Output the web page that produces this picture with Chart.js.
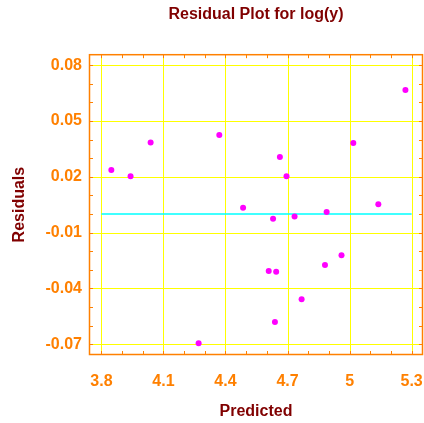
<!DOCTYPE html>
<html><head><meta charset="utf-8">
<style>html,body{margin:0;padding:0;background:#fff;}</style>
<script src="https://cdn.jsdelivr.net/npm/chart.js@4.4.0/dist/chart.umd.min.js"></script>
</head><body>
<canvas id="c" width="424" height="423"></canvas>
<script>
const predicted = [3.848, 3.941, 4.038, 4.270, 4.370, 4.485, 4.609, 4.630, 4.639, 4.645,
                   4.663, 4.695, 4.734, 4.768, 4.881, 4.889, 4.961, 5.018, 5.139, 5.270];
const residuals = [0.0237, 0.0203, 0.0384, -0.0695, 0.0425, 0.0033, -0.0306, -0.0025, -0.0580, -0.0310,
                   0.0307, 0.0203, -0.0014, -0.0458, -0.0274, 0.0011, -0.0222, 0.0382, 0.0053, 0.0666];
const zeroLineX = [3.8, 5.3];
const zeroLineY = [0, 0];
const xTicks = [3.8, 4.1, 4.4, 4.7, 5.0, 5.3];
const xTickLabels = ['3.8', '4.1', '4.4', '4.7', '5', '5.3'];
const yTicks = [-0.07, -0.04, -0.01, 0.02, 0.05, 0.08];
const yTickLabels = ['-0.07', '-0.04', '-0.01', '0.02', '0.05', '0.08'];
const xMinorTicks = [3.8, 3.9, 4.0, 4.1, 4.2, 4.3, 4.4, 4.5, 4.6, 4.7, 4.8, 4.9, 5.0, 5.1, 5.2, 5.3];
const yMinorTicks = [-0.07, -0.06, -0.05, -0.04, -0.03, -0.02, -0.01, 0, 0.01, 0.02, 0.03, 0.04, 0.05, 0.06, 0.07, 0.08];

const ORANGE = '#FF8000';
const MAROON = '#800000';
const YELLOW = '#FFFF00';
const FONT = {family: "'Liberation Sans', Arial, sans-serif", size: 16, weight: 'bold'};

const gridPlugin = {
  id: 'yellowGrid',
  beforeDatasetsDraw(chart) {
    const {ctx, chartArea: {left, right, top, bottom}, scales: {x, y}} = chart;
    ctx.save();
    ctx.strokeStyle = YELLOW;
    ctx.lineWidth = 1;
    ctx.beginPath();
    xTicks.forEach(v => {
      const px = Math.round(x.getPixelForValue(v)) + 0.5;
      ctx.moveTo(px, top); ctx.lineTo(px, bottom);
    });
    yTicks.forEach(v => {
      const py = Math.round(y.getPixelForValue(v)) + 0.5;
      ctx.moveTo(left, py); ctx.lineTo(right, py);
    });
    ctx.stroke();
    ctx.restore();
  }
};

const framePlugin = {
  id: 'frame',
  afterDatasetsDraw(chart) {
    const {ctx, chartArea: {left, right, top, bottom}, scales: {x, y}} = chart;
    ctx.save();
    ctx.strokeStyle = ORANGE;
    ctx.lineWidth = 1;
    ctx.beginPath();
    xMinorTicks.forEach(v => {
      const px = Math.round(x.getPixelForValue(v)) + 0.5;
      ctx.moveTo(px, top); ctx.lineTo(px, top + 4);
      ctx.moveTo(px, bottom); ctx.lineTo(px, bottom - 4);
    });
    yMinorTicks.forEach(v => {
      const py = Math.round(y.getPixelForValue(v)) + 0.5;
      ctx.moveTo(left, py); ctx.lineTo(left + 4, py);
      ctx.moveTo(right, py); ctx.lineTo(right - 4, py);
    });
    ctx.stroke();
    ctx.lineWidth = 1.5;
    ctx.strokeRect(left + 0.5, top + 0.5, right - left - 1, bottom - top - 1);
    ctx.restore();
  }
};

new Chart(document.getElementById('c'), {
  type: 'scatter',
  data: {
    datasets: [
      {
        type: 'line',
        data: zeroLineX.map((v, i) => ({x: v, y: zeroLineY[i]})),
        borderColor: '#00FFFF',
        borderWidth: 1.5,
        pointRadius: 0,
        pointHoverRadius: 0,
        fill: false,
        order: 2
      },
      {
        data: predicted.map((v, i) => ({x: v, y: residuals[i]})),
        backgroundColor: '#FF00FF',
        borderColor: '#FF00FF',
        pointRadius: 3,
        pointHoverRadius: 3,
        borderWidth: 0,
        order: 1
      }
    ]
  },
  options: {
    responsive: false,
    animation: false,
    devicePixelRatio: 1,
    events: [],
    layout: {autoPadding: false, padding: {left: 0, right: 1, top: 0, bottom: 0}},
    plugins: {
      legend: {display: false},
      tooltip: {enabled: false},
      title: {
        display: true,
        text: 'Residual Plot for log(y)',
        color: MAROON,
        font: FONT,
        fullSize: false,
        padding: {top: 5, bottom: 30}
      }
    },
    scales: {
      x: {
        type: 'linear',
        min: 3.74, max: 5.355,
        afterBuildTicks: s => { s.ticks = xTicks.map(v => ({value: v})); },
        afterFit: s => { s.height = 68; s.paddingLeft = 0; s.paddingRight = 0; },
        ticks: {
          callback: (v, i) => xTickLabels[i],
          color: ORANGE, font: FONT, padding: 17, autoSkip: false, maxRotation: 0
        },
        grid: {display: false, drawTicks: false},
        border: {display: false},
        title: {display: true, text: 'Predicted', color: MAROON, font: FONT, padding: {top: 0, bottom: 2}}
      },
      y: {
        type: 'linear',
        min: -0.0758, max: 0.0859,
        afterBuildTicks: s => { s.ticks = yTicks.map(v => ({value: v})); },
        afterFit: s => { s.width = 89; s.paddingTop = 0; s.paddingBottom = 0; },
        ticks: {
          callback: (v, i) => yTickLabels[i],
          color: ORANGE, font: FONT, padding: 7, autoSkip: false
        },
        grid: {display: false, drawTicks: false},
        border: {display: false},
        title: {display: true, text: 'Residuals', color: MAROON, font: FONT, padding: {top: 10, bottom: 0}}
      }
    }
  },
  plugins: [gridPlugin, framePlugin]
});
</script>
</body></html>
